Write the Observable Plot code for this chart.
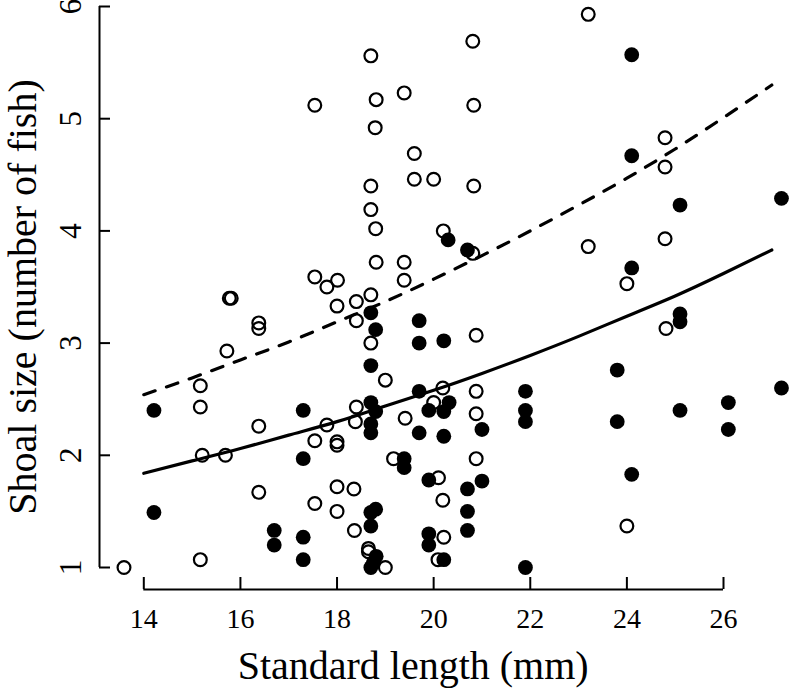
<!DOCTYPE html>
<html>
<head>
<meta charset="utf-8">
<script src="https://cdn.jsdelivr.net/npm/d3@7"></script>
<script src="https://cdn.jsdelivr.net/npm/@observablehq/plot@0.6"></script>
<style>
  html, body { margin: 0; padding: 0; background: #fff; }
  #chart svg { overflow: visible; }
</style>
</head>
<body>
<div id="chart"></div>
<script>
// Open circles: standard length (mm) and shoal size
const openLength = [
  13.59, 15.17, 15.17, 15.21, 15.69, 15.17, 15.72, 15.77, 15.81, 16.38, 16.38, 16.38, 16.38,
  20.81, 18.70, 17.54, 18.81, 19.39, 20.83, 18.79, 19.60, 19.60, 20.00, 20.83, 18.70, 18.70,
  18.80, 20.20, 20.81, 18.81, 19.39, 19.39, 17.54, 18.01, 17.79, 18.70, 18.40, 18.00, 18.40,
  18.70, 19.00, 20.88, 20.19, 20.88, 20.00, 20.88, 18.40, 17.79, 18.38, 19.41, 17.54, 18.00,
  18.00, 19.17, 20.88, 20.10, 18.00, 18.35, 20.19, 17.54, 18.00, 18.36, 20.21, 18.65, 18.65,
  19.00, 20.09,
  23.20, 24.79, 24.79, 23.20, 24.79, 24.00, 24.81, 24.00
];
const openShoal = [
  1.00, 2.62, 2.43, 2.00, 2.00, 1.07, 2.93, 3.40, 3.40, 3.18, 3.13, 2.26, 1.67,
  5.69, 5.56, 5.12, 5.17, 5.23, 5.12, 4.92, 4.69, 4.46, 4.46, 4.40, 4.40, 4.19,
  4.02, 4.00, 3.80, 3.72, 3.72, 3.56, 3.59, 3.56, 3.50, 3.43, 3.37, 3.33, 3.20,
  3.00, 2.67, 3.07, 2.60, 2.57, 2.47, 2.37, 2.43, 2.27, 2.30, 2.33, 2.13, 2.12,
  2.09, 1.97, 1.97, 1.80, 1.72, 1.70, 1.60, 1.57, 1.50, 1.33, 1.27, 1.17, 1.14,
  1.00, 1.07,
  5.93, 4.83, 4.57, 3.86, 3.93, 3.53, 3.13, 1.37
];

// Filled circles: standard length (mm) and shoal size
const filledLength = [
  14.21, 14.21, 16.70, 16.70, 17.30, 17.30, 17.30, 17.30,
  18.70, 18.80, 18.70, 18.70, 18.80, 18.70, 18.70, 18.80, 18.70, 18.70, 18.81, 18.70, 18.75,
  19.70, 19.70, 19.70, 19.70, 19.39, 19.39, 19.90, 19.90, 19.90, 19.90,
  20.21, 20.30, 20.70, 20.32, 20.21, 20.21, 20.21, 20.70, 20.70, 20.70, 21.00, 21.00,
  21.90, 21.90, 21.90, 21.90, 23.80, 23.80, 24.10, 24.10, 24.10, 24.10,
  25.10, 25.10, 25.10, 25.10, 26.10, 26.10, 27.20, 27.20
];
const filledShoal = [
  2.40, 1.49, 1.33, 1.20, 2.40, 1.97, 1.27, 1.07,
  3.27, 3.12, 2.80, 2.47, 2.39, 2.28, 2.20, 1.52, 1.49, 1.37, 1.10, 1.00, 1.04,
  3.20, 3.00, 2.57, 2.20, 1.97, 1.89, 2.40, 1.78, 1.30, 1.20,
  3.02, 3.92, 3.83, 2.47, 2.39, 2.17, 1.07, 1.70, 1.50, 1.33, 2.23, 1.77,
  2.57, 2.40, 2.30, 1.00, 2.76, 2.30, 5.57, 4.67, 3.67, 1.83,
  4.23, 3.26, 3.19, 2.40, 2.47, 2.23, 4.29, 2.60
];

// Fitted curves
const fitLength = [14, 15, 16, 17, 18, 19, 20, 21, 22, 23, 24, 25, 26, 27];
const fitSolid  = [1.84, 1.95, 2.06, 2.18, 2.30, 2.44, 2.58, 2.73, 2.89, 3.06, 3.24, 3.42, 3.62, 3.83];
const fitDashed = [2.54, 2.69, 2.85, 3.01, 3.19, 3.37, 3.57, 3.78, 4.00, 4.23, 4.47, 4.73, 5.01, 5.30];

// Axis ticks and titles
const xTicks = [14, 16, 18, 20, 22, 24, 26];
const yTicks = [1, 2, 3, 4, 5, 6];
const xTitle = "Standard length (mm)";
const yTitle = "Shoal size (number of fish)";

const openPts = openLength.map((x, i) => ({x, y: openShoal[i]}));
const filledPts = filledLength.map((x, i) => ({x, y: filledShoal[i]}));
const solidPts = fitLength.map((x, i) => ({x, y: fitSolid[i]}));
const dashedPts = fitLength.map((x, i) => ({x, y: fitDashed[i]}));

const W = 790, H = 690;
const mL = 143.3, mR = 67, mT = 6, mB = 123;
const axisOffsetX = -44.3; // y-axis line left of x=14
const axisOffsetY = 22;    // x-axis line below y=1

const chart = Plot.plot({
  width: W,
  height: H,
  marginLeft: mL,
  marginRight: mR,
  marginTop: mT,
  marginBottom: mB,
  style: {fontFamily: "Liberation Serif, Times New Roman, serif", background: "white", color: "black"},
  x: {domain: [14, 26], axis: null},
  y: {domain: [1, 6], axis: null},
  marks: [
    // axes lines
    Plot.ruleY([1], {x1: 14, x2: 26, dy: axisOffsetY, strokeWidth: 2, stroke: "black"}),
    Plot.ruleX([14], {y1: 1, y2: 6, dx: axisOffsetX, strokeWidth: 2, stroke: "black"}),
    // inward ticks
    Plot.axisX(xTicks, {anchor: "bottom", tickSize: -12, dy: axisOffsetY, fill: "none", strokeWidth: 2, label: null}),
    Plot.axisY(yTicks, {anchor: "left", tickSize: -11, dx: axisOffsetX, fill: "none", strokeWidth: 2, label: null}),
    // tick labels
    Plot.text(xTicks, {x: d => d, frameAnchor: "bottom", dy: 60, lineAnchor: "bottom", textAnchor: "middle", text: d => String(d), fontSize: 28}),
    Plot.text(yTicks, {y: d => d, frameAnchor: "left", dx: -63.3, rotate: -90, lineAnchor: "bottom", textAnchor: "middle", text: d => String(d), fontSize: 31}),
    // titles
    Plot.text([xTitle], {frameAnchor: "bottom", dx: -20.5, dy: 111, lineAnchor: "bottom", textAnchor: "middle", text: d => d, fontSize: 40}),
    Plot.text([yTitle], {frameAnchor: "left", dx: -107.7, dy: 10, rotate: -90, lineAnchor: "bottom", textAnchor: "middle", text: d => d, fontSize: 40}),
    // points
    Plot.dot(openPts, {x: "x", y: "y", r: 6.4, stroke: "black", strokeWidth: 2.2, fill: "none"}),
    Plot.dot(filledPts, {x: "x", y: "y", r: 7.4, fill: "black", stroke: "none"}),
    // fitted curves
    Plot.line(solidPts, {x: "x", y: "y", curve: "natural", stroke: "black", strokeWidth: 3.2, strokeLinecap: "round"}),
    Plot.line(dashedPts, {x: "x", y: "y", curve: "natural", stroke: "black", strokeWidth: 3.2, strokeLinecap: "round", strokeDasharray: "12,12"})
  ]
});
document.getElementById("chart").appendChild(chart);
</script>
</body>
</html>
